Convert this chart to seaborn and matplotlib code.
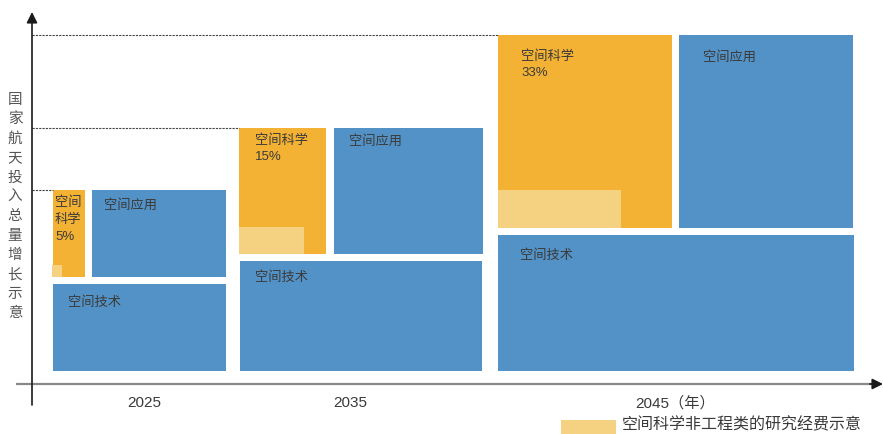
import numpy as np
import matplotlib
matplotlib.use("Agg")
import matplotlib.pyplot as plt
import seaborn as sns

# ---- data (chart units: origin at the axes corner, y up) ----
years = ["2025", "2035", "2045（年）"]
year_pos = [112, 318, 643]
sci_share = ["5%", "15%", "33%"]

# 空间科学 block
sci_x0 = [21, 207, 466]
sci_x1 = [53, 294, 640]
sci_y0 = [107, 130, 156]
sci_y1 = [194, 256, 349]
# non-engineering research part of 空间科学
light_x0 = [20, 207, 466]
light_x1 = [30, 272, 589]
light_y1 = [119, 157, 194]
# 空间应用 block
app_x0 = [60, 302, 647]
app_x1 = [194, 451, 821]
# 空间技术 block
tech_x0 = [21, 208, 466]
tech_x1 = [194, 450, 822]
tech_y0 = [13, 13, 13]
tech_y1 = [100, 123, 149]

ylabel = "国家航天投入总量增长示意"
legend_label = "空间科学非工程类的研究经费示意"

ORANGE = "#F3B234"
BLUE = "#5392C6"
LIGHT = "#F4D281"
TXT = "#3a3a3a"

sns.set_theme(style="white")
plt.rcParams["font.family"] = ["Liberation Sans", "Noto Sans CJK SC", "DejaVu Sans"]

fig = plt.figure(figsize=(8.83, 4.34), dpi=100)
ax = fig.add_axes([0, 0, 1, 1])
ax.set_xlim(-32, 851)
ax.set_ylim(-50, 384)
ax.axis("off")

def arr(a):
    return np.asarray(a, dtype=float)

# bars
ax.bar(arr(sci_x0), arr(sci_y1) - arr(sci_y0), width=arr(sci_x1) - arr(sci_x0),
       bottom=arr(sci_y0), align="edge", color=ORANGE, linewidth=0)
ax.bar(arr(light_x0), arr(light_y1) - arr(sci_y0), width=arr(light_x1) - arr(light_x0),
       bottom=arr(sci_y0), align="edge", color=LIGHT, linewidth=0)
ax.bar(arr(app_x0), arr(sci_y1) - arr(sci_y0), width=arr(app_x1) - arr(app_x0),
       bottom=arr(sci_y0), align="edge", color=BLUE, linewidth=0)
ax.bar(arr(tech_x0), arr(tech_y1) - arr(tech_y0), width=arr(tech_x1) - arr(tech_x0),
       bottom=arr(tech_y0), align="edge", color=BLUE, linewidth=0)

# dashed total-level guides
for i in range(3):
    ax.plot([0, sci_x0[i]], [sci_y1[i], sci_y1[i]], color="#444444",
            lw=0.8, ls=(0, (2, 1)))

# labels inside blocks
pad_x = [14, 15, 22]
pad_y = [15, 13, 22]
fs = 9.5
for i in range(3):
    if i == 0:
        lines = ["空间", "科学", sci_share[i]]
        for k, s in enumerate(lines):
            ax.text(sci_x0[i] + 2, sci_y1[i] - 13 - 17 * k, s, fontsize=fs,
                    color=TXT, va="center", ha="left")
    else:
        ax.text(sci_x0[i] + pad_x[i] + 1, sci_y1[i] - pad_y[i], "空间科学",
                fontsize=fs, color=TXT, va="center", ha="left")
        ax.text(sci_x0[i] + pad_x[i] + 1, sci_y1[i] - pad_y[i] - 16.5, sci_share[i],
                fontsize=fs, color=TXT, va="center", ha="left")
    ax.text(app_x0[i] + pad_x[i] - (2 if i == 0 else 0) + (2 if i == 2 else 0),
            sci_y1[i] - pad_y[i], "空间应用", fontsize=fs, color=TXT,
            va="center", ha="left")
    ax.text(tech_x0[i] + pad_x[i] + (1 if i == 0 else 0), tech_y1[i] - pad_y[i] - (4 if i < 2 else -1),
            "空间技术", fontsize=fs, color=TXT, va="center", ha="left")

# axes with arrows
ax.plot([-16, 840], [0, 0], color="#888888", lw=1.6, solid_capstyle="butt")
ax.annotate("", xy=(851, 0), xytext=(838, 0),
            arrowprops=dict(arrowstyle="-|>", color="#1a1a1a", lw=1.2,
                            mutation_scale=16, shrinkA=0, shrinkB=0),
            annotation_clip=False)
ax.annotate("", xy=(0, 372), xytext=(0, -21),
            arrowprops=dict(arrowstyle="-|>", color="#1a1a1a", lw=1.2,
                            mutation_scale=16, shrinkA=0, shrinkB=0),
            annotation_clip=False)

# year labels
for pos, y in zip(year_pos, years):
    ax.text(pos, -19, y, fontsize=11, color=TXT, ha="center", va="center")

# vertical y label
for k, ch in enumerate(ylabel):
    ax.text(-17, 284 - 19.4 * k, ch, fontsize=10.5, color="#555555",
            ha="center", va="center")

# legend
ax.bar([529], [-18], width=55, bottom=-36, align="edge", color=LIGHT,
       linewidth=0, clip_on=False)
ax.text(590, -41, legend_label, fontsize=11.5, color=TXT, ha="left", va="center")

fig.savefig("out.png", dpi=100)
